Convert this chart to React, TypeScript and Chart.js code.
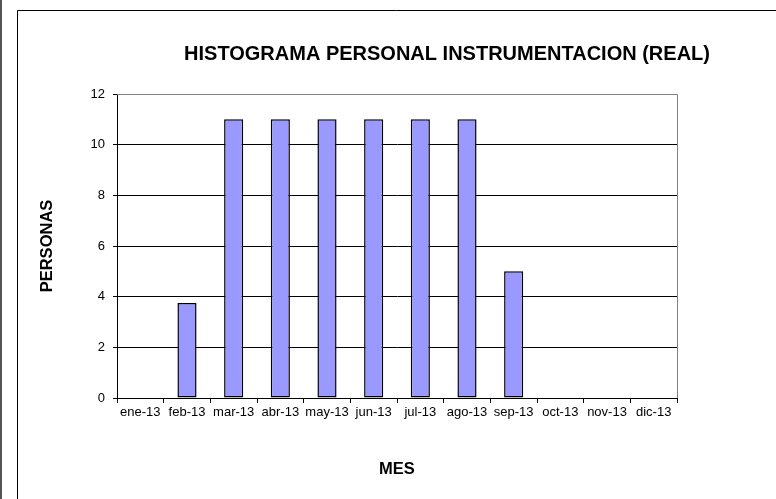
import React, { useEffect, useRef } from "react";
import { Chart, registerables } from "chart.js";

Chart.register(...registerables);

const months = ["ene-13", "feb-13", "mar-13", "abr-13", "may-13", "jun-13", "jul-13", "ago-13", "sep-13", "oct-13", "nov-13", "dic-13"];
const personas: (number | null)[] = [null, 3.75, 11, 11, 11, 11, 11, 11, 5, null, null, null];
const titleText = "HISTOGRAMA PERSONAL INSTRUMENTACION (REAL)";
const yTitle = "PERSONAS";
const xTitle = "MES";

const FONT = "'Liberation Sans', Arial, sans-serif";

const framePlugin = {
  id: "frame",
  beforeDatasetsDraw(chart: any) {
    const { ctx, chartArea } = chart;
    ctx.save();
    ctx.strokeStyle = "#808080";
    ctx.lineWidth = 1;
    ctx.beginPath();
    ctx.moveTo(chartArea.left, Math.round(chartArea.top) + 0.5);
    ctx.lineTo(Math.round(chartArea.right) + 0.5, Math.round(chartArea.top) + 0.5);
    ctx.lineTo(Math.round(chartArea.right) + 0.5, chartArea.bottom);
    ctx.stroke();
    ctx.restore();
  },
  afterDraw(chart: any) {
    const { ctx, width, height } = chart;
    ctx.save();
    ctx.strokeStyle = "#555555";
    ctx.lineWidth = 2;
    ctx.beginPath();
    ctx.moveTo(1, 0);
    ctx.lineTo(1, height);
    ctx.stroke();
    ctx.strokeStyle = "#000000";
    ctx.lineWidth = 1;
    ctx.beginPath();
    ctx.moveTo(17.5, height);
    ctx.lineTo(17.5, 10.5);
    ctx.lineTo(width, 10.5);
    ctx.stroke();
    // chart title
    ctx.fillStyle = "#000";
    ctx.font = "bold 20px " + FONT;
    ctx.textAlign = "center";
    ctx.textBaseline = "middle";
    ctx.fillText(titleText, 447, 54);
    ctx.restore();
  },
};

export default function App() {
  const ref = useRef<HTMLCanvasElement>(null);
  useEffect(() => {
    if (!ref.current) return;
    const chart = new Chart(ref.current, {
      type: "bar",
      data: {
        labels: months,
        datasets: [
          {
            data: personas,
            backgroundColor: "#9999FF",
            borderColor: "#000000",
            borderWidth: 1.5,
            borderSkipped: false,
            barPercentage: 0.41,
            categoryPercentage: 1,
          },
        ],
      },
      options: {
        animation: false,
        responsive: false,
        maintainAspectRatio: false,
        layout: { padding: { left: 0, right: 99, top: 94, bottom: 0 } },
        plugins: {
          legend: { display: false },
          tooltip: { enabled: false },
          title: { display: false },
        },
        scales: {
          x: {
            afterFit(scale: any) {
              scale.height = 101;
            },
            grid: {
              offset: true,
              drawOnChartArea: false,
              drawTicks: true,
              tickLength: 5,
              tickColor: "#000",
            },
            border: { color: "#000", width: 1 },
            ticks: {
              color: "#000",
              font: { family: FONT, size: 13 },
              padding: 2,
              maxRotation: 0,
              autoSkip: false,
            },
            title: {
              display: true,
              text: xTitle,
              color: "#000",
              font: { family: FONT, size: 16.5, weight: "bold" },
              padding: { top: 0, bottom: 20 },
            },
          },
          y: {
            min: 0,
            max: 12,
            afterFit(scale: any) {
              scale.width = 117;
            },
            grid: {
              color: (c: any) => (c.tick && c.tick.value === 12 ? "#808080" : "#000"),
              tickColor: "#000",
              tickLength: 4,
              drawTicks: true,
            },
            border: { color: "#000", width: 1 },
            ticks: {
              stepSize: 2,
              color: "#000",
              font: { family: FONT, size: 13 },
              padding: 8,
            },
            title: {
              display: true,
              text: yTitle,
              color: "#000",
              font: { family: FONT, size: 16.5, weight: "bold" },
              padding: { top: 37.5, bottom: 0 },
            },
          },
        },
      },
      plugins: [framePlugin],
    });
    return () => chart.destroy();
  }, []);
  return (
    <div style={{ position: "absolute", left: 0, top: 0, width: 776, height: 499, background: "#fff" }}>
      <canvas ref={ref} width={776} height={499} style={{ display: "block", width: 776, height: 499 }} />
    </div>
  );
}
